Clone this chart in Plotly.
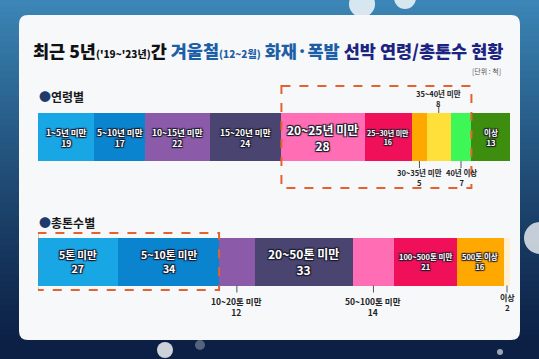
import plotly.graph_objects as go
import numpy as np

W, H = 539, 359

# ---- data ----
age_labels = ["1~5년 미만", "5~10년 미만", "10~15년 미만", "15~20년 미만", "20~25년 미만",
              "25~30년 미만", "30~35년 미만", "35~40년 미만", "40년 이상", "이상"]
age_values = [19, 17, 22, 24, 28, 16, 5, 8, 7, 13]
age_colors = ["#19a6e4", "#0a84cf", "#8b5aa8", "#4a4470", "#ff6db4",
              "#f0105a", "#ffa800", "#ffe03a", "#3cf756", "#3d8e0f"]

ton_labels = ["5톤 미만", "5~10톤 미만", "10~20톤 미만", "20~50톤 미만", "50~100톤 미만",
              "100~500톤 미만", "500톤 이상", "이상"]
ton_values = [27, 34, 12, 33, 14, 21, 16, 2]
ton_colors = ["#19a6e4", "#0a84cf", "#8b5aa8", "#4a4470", "#ff6db4",
              "#f0105a", "#ffa800", "#fff0d2"]

FONT = "Noto Sans CJK KR"

def px(x):
    return x / W

def py(y):
    return 1 - y / H

fig = go.Figure()

AGE_Y, TON_Y, BAR_W = 137, 261.5, 48

for lab, v, c in zip(age_labels, age_values, age_colors):
    fig.add_trace(go.Bar(x=[v], y=[AGE_Y], orientation="h", width=BAR_W,
                         marker=dict(color=c, line=dict(width=0)),
                         hoverinfo="skip", showlegend=False))
for lab, v, c in zip(ton_labels, ton_values, ton_colors):
    fig.add_trace(go.Bar(x=[v], y=[TON_Y], orientation="h", width=BAR_W,
                         marker=dict(color=c, line=dict(width=0)),
                         hoverinfo="skip", showlegend=False))

shapes = []
# background gradient
n = 60
top = np.array([0x3b, 0x86, 0xb6])
bot = np.array([0x0c, 0x1f, 0x44])
for i in range(n):
    t = i / (n - 1)
    c = (top * (1 - t) ** 1.2 + bot * (1 - (1 - t) ** 1.2)).astype(int)
    shapes.append(dict(type="rect", xref="paper", yref="paper", x0=0, x1=1,
                       y0=py(H * (i + 1) / n) - 0.002, y1=py(H * i / n),
                       fillcolor="rgb(%d,%d,%d)" % tuple(c), line=dict(width=0), layer="below"))
# bokeh
for (cx, cy, r, op) in [(362, 4, 13, 0.8), (405, -2, 11, 0.8), (165, 350, 8, 0.8),
                        (540, 238, 16, 0.75), (200, 345, 5, 0.3), (500, 352, 3, 0.6)]:
    shapes.append(dict(type="circle", xref="paper", yref="paper",
                       x0=px(cx - r), x1=px(cx + r), y0=py(cy + r), y1=py(cy - r),
                       fillcolor="rgba(255,255,255,%.2f)" % op, line=dict(width=0), layer="below"))
# white panel (rounded)
x0, x1, y0, y1, r = 19, 520, 15, 340, 9
path = (f"M {px(x0+r)},{py(y0)} L {px(x1-r)},{py(y0)} Q {px(x1)},{py(y0)} {px(x1)},{py(y0+r)} "
        f"L {px(x1)},{py(y1-r)} Q {px(x1)},{py(y1)} {px(x1-r)},{py(y1)} "
        f"L {px(x0+r)},{py(y1)} Q {px(x0)},{py(y1)} {px(x0)},{py(y1-r)} "
        f"L {px(x0)},{py(y0+r)} Q {px(x0)},{py(y0)} {px(x0+r)},{py(y0)} Z")
shapes.append(dict(type="path", xref="paper", yref="paper", path=path,
                   fillcolor="#f7f8fa", line=dict(width=0), layer="below"))

age_cum = np.cumsum([0] + age_values)
ton_cum = np.cumsum([0] + ton_values)

# dashed highlight boxes
shapes.append(dict(type="rect", xref="x", yref="y", x0=age_cum[4], x1=age_cum[9],
                   y0=86, y1=188, line=dict(color="#e5622e", width=2, dash="dash"),
                   fillcolor="rgba(0,0,0,0)"))
shapes.append(dict(type="rect", xref="x", yref="y", x0=ton_cum[0] - 0.2, x1=ton_cum[2],
                   y0=233, y1=290, line=dict(color="#e5622e", width=2, dash="dash"),
                   fillcolor="rgba(0,0,0,0)"))

annotations = []
SH = "1px 1px 1px #1a1a2a, -1px -1px 1px #1a1a2a, 1px -1px 1px #1a1a2a, -1px 1px 1px #1a1a2a"

def inside(x, y, text, size):
    annotations.append(dict(x=x, y=y, xref="x", yref="y", text=text, showarrow=False,
                            font=dict(family=FONT, size=size, color="white", weight="bold", shadow=SH),
                            align="center"))

age_sizes = [8.5, 8.5, 8.5, 8.5, 12, 7, None, None, None, 7.5]
for i, (lab, v) in enumerate(zip(age_labels, age_values)):
    if age_sizes[i] is None:
        continue
    cx = age_cum[i] + v / 2
    inside(cx, AGE_Y, f"{lab}<br>{v}", age_sizes[i])

ton_sizes = [10.5, 10.5, None, 12, None, 7.5, 7.5, None]
for i, (lab, v) in enumerate(zip(ton_labels, ton_values)):
    if ton_sizes[i] is None:
        continue
    cx = ton_cum[i] + v / 2
    inside(cx, TON_Y, f"{lab}<br>{v}", ton_sizes[i])

def callout(cum, vals, labs, i, above, bar_y, text_y, size=8):
    cx = cum[i] + vals[i] / 2
    edge = bar_y - BAR_W / 2 if above else bar_y + BAR_W / 2
    tip = edge - 7 if above else edge + 7
    shapes.append(dict(type="line", xref="x", yref="y", x0=cx, x1=cx, y0=edge, y1=tip,
                       line=dict(color="#555", width=1)))
    annotations.append(dict(x=cx, y=text_y, xref="x", yref="y", showarrow=False,
                            text=f"{labs[i]}<br>{vals[i]}", align="center",
                            font=dict(family=FONT, size=size, color="#222", weight="bold")))

callout(age_cum, age_values, age_labels, 7, True, AGE_Y, 98, 7.5)
callout(age_cum, age_values, age_labels, 6, False, AGE_Y, 177, 7.5)
callout(age_cum, age_values, age_labels, 8, False, AGE_Y, 177, 7.5)
callout(ton_cum, ton_values, ton_labels, 2, False, TON_Y, 306, 8.5)
callout(ton_cum, ton_values, ton_labels, 4, False, TON_Y, 306, 8.5)
callout(ton_cum, ton_values, ton_labels, 7, False, TON_Y, 302, 8)

# title
title = ("<span style='color:#111'>최근 5년<span style='font-size:10px'>('19~'23년)</span>간</span> "
         "<span style='color:#1d5fa6'>겨울철<span style='font-size:10px'>(12~2월)</span> 화재·폭발</span> "
         "<span style='color:#1b2480'>선박 연령/총톤수 현황</span>")
annotations.append(dict(x=px(268), y=py(50), xref="paper", yref="paper", text=title,
                        showarrow=False, xanchor="center", yanchor="middle",
                        font=dict(family=FONT, size=17.5, weight=900)))
annotations.append(dict(x=px(503), y=py(71), xref="paper", yref="paper", text="[단위 : 척]",
                        showarrow=False, xanchor="right", yanchor="middle",
                        font=dict(family=FONT, size=7, color="#555")))
for txt, yy in [("연령별", 97), ("총톤수별", 222)]:
    annotations.append(dict(x=px(37), y=py(yy), xref="paper", yref="paper",
                            text=f"<span style='color:#1e3b6e'>●</span>{txt}", showarrow=False,
                            xanchor="left", yanchor="middle",
                            font=dict(family=FONT, size=12, color="#1a1a1a", weight="bold")))

fig.update_layout(
    width=W, height=H, margin=dict(l=0, r=0, t=0, b=0),
    paper_bgcolor="#0c1f44", plot_bgcolor="rgba(0,0,0,0)",
    barmode="stack", bargap=0,
    xaxis=dict(domain=[px(38), px(510)], range=[0, sum(age_values)], visible=False, fixedrange=True),
    yaxis=dict(domain=[0, 1], range=[H, 0], visible=False, fixedrange=True),
    shapes=shapes, annotations=annotations, showlegend=False,
)

fig.write_html("out.html", config={"displayModeBar": False},
               post_script="document.body.style.margin='0';document.body.style.overflow='hidden';")
